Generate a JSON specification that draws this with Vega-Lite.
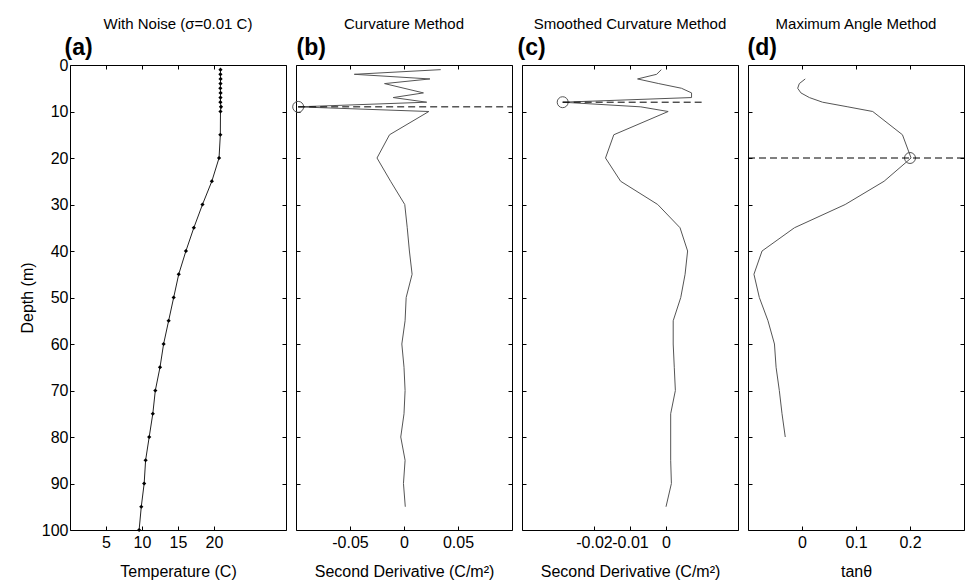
{
  "$schema": "https://vega.github.io/schema/vega-lite/v6.json",
  "background": "white",
  "padding": {"left": 18, "top": 16, "right": 0, "bottom": 0},
  "bounds": "flush",
  "spacing": 10,
  "config": {
    "font": "Liberation Sans",
    "view": {"stroke": "#000", "strokeWidth": 1},
    "axis": {"domain": false, "grid": false, "tickSize": -4, "tickColor": "#000", "labelFontSize": 16, "labelColor": "#000", "titleFontSize": 16, "titleFontWeight": "normal", "titleColor": "#000", "labelFont": "Liberation Sans", "titleFont": "Liberation Sans", "labelOverlap": false, "labelFlush": false},
    "title": {"fontSize": 15, "fontWeight": "normal", "font": "Liberation Sans", "color": "#000", "anchor": "middle", "offset": 4}
  },
  "datasets": {
    "a": [
      {"depth": 1, "temp": 20.9}, {"depth": 2, "temp": 20.89}, {"depth": 3, "temp": 20.91}, {"depth": 4, "temp": 20.9}, {"depth": 5, "temp": 20.88},
      {"depth": 6, "temp": 20.91}, {"depth": 7, "temp": 20.9}, {"depth": 8, "temp": 20.89}, {"depth": 9, "temp": 20.97}, {"depth": 10, "temp": 20.9},
      {"depth": 15, "temp": 20.88}, {"depth": 20, "temp": 20.7}, {"depth": 25, "temp": 19.7}, {"depth": 30, "temp": 18.4}, {"depth": 35, "temp": 17.2},
      {"depth": 40, "temp": 16.1}, {"depth": 45, "temp": 15.1}, {"depth": 50, "temp": 14.4}, {"depth": 55, "temp": 13.7}, {"depth": 60, "temp": 13.0},
      {"depth": 65, "temp": 12.5}, {"depth": 70, "temp": 11.85}, {"depth": 75, "temp": 11.5}, {"depth": 80, "temp": 11.0}, {"depth": 85, "temp": 10.5},
      {"depth": 90, "temp": 10.3}, {"depth": 95, "temp": 9.9}, {"depth": 100, "temp": 9.6}
    ],
    "b": [
      {"depth": 1, "v": 0.034}, {"depth": 2, "v": -0.046}, {"depth": 3, "v": 0.024}, {"depth": 4, "v": -0.018}, {"depth": 5, "v": 0.0},
      {"depth": 6, "v": 0.018}, {"depth": 7, "v": -0.010}, {"depth": 8, "v": 0.021}, {"depth": 9, "v": -0.098}, {"depth": 10, "v": 0.023},
      {"depth": 15, "v": -0.0134}, {"depth": 20, "v": -0.025}, {"depth": 25, "v": -0.0124}, {"depth": 30, "v": 0.0007}, {"depth": 35, "v": 0.003},
      {"depth": 40, "v": 0.005}, {"depth": 45, "v": 0.0075}, {"depth": 50, "v": 0.002}, {"depth": 55, "v": 0.001}, {"depth": 60, "v": -0.002},
      {"depth": 65, "v": 0.0}, {"depth": 70, "v": 0.001}, {"depth": 75, "v": 0.0}, {"depth": 80, "v": -0.003}, {"depth": 85, "v": 0.001},
      {"depth": 90, "v": -0.0005}, {"depth": 95, "v": 0.0012}
    ],
    "c": [
      {"depth": 1, "v": -0.0013}, {"depth": 2, "v": -0.0026}, {"depth": 3, "v": -0.0079}, {"depth": 4, "v": -0.002}, {"depth": 5, "v": 0.0043},
      {"depth": 6, "v": 0.0071}, {"depth": 7, "v": 0.0071}, {"depth": 8, "v": -0.0287}, {"depth": 9, "v": -0.007}, {"depth": 10, "v": 0.0006},
      {"depth": 15, "v": -0.0145}, {"depth": 20, "v": -0.0168}, {"depth": 25, "v": -0.0126}, {"depth": 30, "v": -0.0023}, {"depth": 35, "v": 0.0039},
      {"depth": 40, "v": 0.006}, {"depth": 45, "v": 0.0053}, {"depth": 50, "v": 0.0041}, {"depth": 55, "v": 0.002}, {"depth": 60, "v": 0.002},
      {"depth": 65, "v": 0.0023}, {"depth": 70, "v": 0.0026}, {"depth": 75, "v": 0.0013}, {"depth": 80, "v": 0.0013}, {"depth": 85, "v": 0.0013},
      {"depth": 90, "v": 0.0015}, {"depth": 95, "v": 0.0}
    ],
    "d": [
      {"depth": 3, "v": 0.006}, {"depth": 4, "v": -0.005}, {"depth": 5, "v": -0.008}, {"depth": 6, "v": -0.002}, {"depth": 7, "v": 0.0136},
      {"depth": 8, "v": 0.038}, {"depth": 9, "v": 0.085}, {"depth": 10, "v": 0.131}, {"depth": 15, "v": 0.186}, {"depth": 20, "v": 0.202},
      {"depth": 25, "v": 0.152}, {"depth": 30, "v": 0.08}, {"depth": 35, "v": -0.014}, {"depth": 40, "v": -0.074}, {"depth": 45, "v": -0.089},
      {"depth": 50, "v": -0.079}, {"depth": 55, "v": -0.063}, {"depth": 60, "v": -0.051}, {"depth": 65, "v": -0.048}, {"depth": 70, "v": -0.042},
      {"depth": 75, "v": -0.037}, {"depth": 80, "v": -0.031}
    ],
    "mb": [{"depth": 9, "x": -0.098, "x2": 0.1}],
    "mc": [{"depth": 8, "x": -0.0287, "x2": 0.0099}],
    "md": [{"depth": 20, "x": 0.2, "x2": 0.3, "x0": -0.1}]
  },
  "hconcat": [
    {
      "width": 216, "height": 465,
      "title": {"text": "With Noise (σ=0.01 C)"},
      "data": {"name": "a"},
      "layer": [
        {
          "mark": {"type": "line", "color": "#222", "strokeWidth": 1},
          "encoding": {
            "x": {"field": "temp", "type": "quantitative", "scale": {"domain": [0, 30], "nice": false, "zero": false},
                  "axis": {"orient": "bottom", "values": [5, 10, 15, 20], "title": "Temperature (C)", "labelPadding": 8, "titlePadding": 13}},
            "y": {"field": "depth", "type": "quantitative", "scale": {"domain": [0, 100], "reverse": true, "nice": false, "zero": false},
                  "axis": {"orient": "left", "values": [0, 10, 20, 30, 40, 50, 60, 70, 80, 90, 100], "title": "Depth (m)", "labelPadding": 6, "titlePadding": 6}},
            "order": {"field": "depth", "type": "quantitative"}
          }
        },
        {
          "mark": {"type": "point", "shape": "diamond", "filled": true, "color": "#000", "size": 18, "opacity": 1},
          "encoding": {
            "x": {"field": "temp", "type": "quantitative", "scale": {"domain": [0, 30], "nice": false, "zero": false},
                  "axis": {"orient": "top", "values": [5, 10, 15, 20], "labels": false, "title": "(a)", "titleFontSize": 23, "titleFontWeight": "bold", "titleAnchor": "start", "titleAlign": "left", "titleX": -6, "titleY": -11, "titleBaseline": "alphabetic"}},
            "y": {"field": "depth", "type": "quantitative", "scale": {"domain": [0, 100], "reverse": true, "nice": false, "zero": false},
                  "axis": {"orient": "right", "values": [0, 10, 20, 30, 40, 50, 60, 70, 80, 90, 100], "labels": false, "title": null}}
          }
        }
      ],
      "resolve": {"axis": {"x": "independent", "y": "independent"}}
    },
    {
      "width": 216, "height": 465,
      "title": {"text": "Curvature Method"},
      "layer": [
        {
          "data": {"name": "b"},
          "mark": {"type": "line", "color": "#555", "strokeWidth": 1},
          "encoding": {
            "x": {"field": "v", "type": "quantitative", "scale": {"domain": [-0.1, 0.1], "nice": false, "zero": false},
                  "axis": {"orient": "bottom", "values": [-0.05, 0, 0.05], "labelExpr": "replace(format(datum.value, '~g'), '−', '-')", "title": "Second Derivative (C/m²)", "labelPadding": 8, "titlePadding": 13}},
            "y": {"field": "depth", "type": "quantitative", "scale": {"domain": [0, 100], "reverse": true, "nice": false, "zero": false},
                  "axis": {"orient": "left", "values": [0, 10, 20, 30, 40, 50, 60, 70, 80, 90, 100], "labels": false, "title": null}},
            "order": {"field": "depth", "type": "quantitative"}
          }
        },
        {
          "data": {"name": "mb"},
          "mark": {"type": "point", "shape": "circle", "filled": false, "color": "#555", "size": 120, "strokeWidth": 1, "opacity": 1},
          "encoding": {
            "x": {"field": "x", "type": "quantitative", "scale": {"domain": [-0.1, 0.1], "nice": false, "zero": false},
                  "axis": {"orient": "top", "values": [-0.05, 0, 0.05], "labels": false, "title": "(b)", "titleFontSize": 23, "titleFontWeight": "bold", "titleAnchor": "start", "titleAlign": "left", "titleX": 0, "titleY": -11, "titleBaseline": "alphabetic"}},
            "y": {"field": "depth", "type": "quantitative", "scale": {"domain": [0, 100], "reverse": true, "nice": false, "zero": false},
                  "axis": {"orient": "right", "values": [0, 10, 20, 30, 40, 50, 60, 70, 80, 90, 100], "labels": false, "title": null}}
          }
        },
        {
          "data": {"name": "mb"},
          "mark": {"type": "rule", "color": "#000", "strokeWidth": 1, "strokeDash": [7, 4]},
          "encoding": {
            "x": {"field": "x", "type": "quantitative", "scale": {"domain": [-0.1, 0.1], "nice": false, "zero": false}, "axis": null},
            "x2": {"field": "x2"},
            "y": {"field": "depth", "type": "quantitative", "scale": {"domain": [0, 100], "reverse": true, "nice": false, "zero": false}, "axis": null}
          }
        }
      ],
      "resolve": {"axis": {"x": "independent", "y": "independent"}}
    },
    {
      "width": 216, "height": 465,
      "title": {"text": "Smoothed Curvature Method"},
      "layer": [
        {
          "data": {"name": "c"},
          "mark": {"type": "line", "color": "#555", "strokeWidth": 1},
          "encoding": {
            "x": {"field": "v", "type": "quantitative", "scale": {"domain": [-0.04, 0.02], "nice": false, "zero": false},
                  "axis": {"orient": "bottom", "values": [-0.02, -0.01, 0], "labelExpr": "replace(format(datum.value, '~g'), '−', '-')", "title": "Second Derivative (C/m²)", "labelPadding": 8, "titlePadding": 13}},
            "y": {"field": "depth", "type": "quantitative", "scale": {"domain": [0, 100], "reverse": true, "nice": false, "zero": false},
                  "axis": {"orient": "left", "values": [0, 10, 20, 30, 40, 50, 60, 70, 80, 90, 100], "labels": false, "title": null}},
            "order": {"field": "depth", "type": "quantitative"}
          }
        },
        {
          "data": {"name": "mc"},
          "mark": {"type": "point", "shape": "circle", "filled": false, "color": "#555", "size": 120, "strokeWidth": 1, "opacity": 1},
          "encoding": {
            "x": {"field": "x", "type": "quantitative", "scale": {"domain": [-0.04, 0.02], "nice": false, "zero": false},
                  "axis": {"orient": "top", "values": [-0.02, -0.01, 0], "labels": false, "title": "(c)", "titleFontSize": 23, "titleFontWeight": "bold", "titleAnchor": "start", "titleAlign": "left", "titleX": -5, "titleY": -11, "titleBaseline": "alphabetic"}},
            "y": {"field": "depth", "type": "quantitative", "scale": {"domain": [0, 100], "reverse": true, "nice": false, "zero": false},
                  "axis": {"orient": "right", "values": [0, 10, 20, 30, 40, 50, 60, 70, 80, 90, 100], "labels": false, "title": null}}
          }
        },
        {
          "data": {"name": "mc"},
          "mark": {"type": "rule", "color": "#000", "strokeWidth": 1, "strokeDash": [7, 4]},
          "encoding": {
            "x": {"field": "x", "type": "quantitative", "scale": {"domain": [-0.04, 0.02], "nice": false, "zero": false}, "axis": null},
            "x2": {"field": "x2"},
            "y": {"field": "depth", "type": "quantitative", "scale": {"domain": [0, 100], "reverse": true, "nice": false, "zero": false}, "axis": null}
          }
        }
      ],
      "resolve": {"axis": {"x": "independent", "y": "independent"}}
    },
    {
      "width": 216, "height": 465,
      "title": {"text": "Maximum Angle Method"},
      "layer": [
        {
          "data": {"name": "d"},
          "mark": {"type": "line", "color": "#555", "strokeWidth": 1},
          "encoding": {
            "x": {"field": "v", "type": "quantitative", "scale": {"domain": [-0.1, 0.3], "nice": false, "zero": false},
                  "axis": {"orient": "bottom", "values": [0, 0.1, 0.2], "labelExpr": "replace(format(datum.value, '~g'), '−', '-')", "title": "tanθ", "labelPadding": 8, "titlePadding": 13}},
            "y": {"field": "depth", "type": "quantitative", "scale": {"domain": [0, 100], "reverse": true, "nice": false, "zero": false},
                  "axis": {"orient": "left", "values": [0, 10, 20, 30, 40, 50, 60, 70, 80, 90, 100], "labels": false, "title": null}},
            "order": {"field": "depth", "type": "quantitative"}
          }
        },
        {
          "data": {"name": "md"},
          "mark": {"type": "point", "shape": "circle", "filled": false, "color": "#555", "size": 120, "strokeWidth": 1, "opacity": 1},
          "encoding": {
            "x": {"field": "x", "type": "quantitative", "scale": {"domain": [-0.1, 0.3], "nice": false, "zero": false},
                  "axis": {"orient": "top", "values": [0, 0.1, 0.2], "labels": false, "title": "(d)", "titleFontSize": 23, "titleFontWeight": "bold", "titleAnchor": "start", "titleAlign": "left", "titleX": -1, "titleY": -11, "titleBaseline": "alphabetic"}},
            "y": {"field": "depth", "type": "quantitative", "scale": {"domain": [0, 100], "reverse": true, "nice": false, "zero": false},
                  "axis": {"orient": "right", "values": [0, 10, 20, 30, 40, 50, 60, 70, 80, 90, 100], "labels": false, "title": null}}
          }
        },
        {
          "data": {"name": "md"},
          "mark": {"type": "rule", "color": "#000", "strokeWidth": 1, "strokeDash": [7, 4]},
          "encoding": {
            "x": {"field": "x0", "type": "quantitative", "scale": {"domain": [-0.1, 0.3], "nice": false, "zero": false}, "axis": null},
            "x2": {"field": "x2"},
            "y": {"field": "depth", "type": "quantitative", "scale": {"domain": [0, 100], "reverse": true, "nice": false, "zero": false}, "axis": null}
          }
        }
      ],
      "resolve": {"axis": {"x": "independent", "y": "independent"}}
    }
  ]
}
